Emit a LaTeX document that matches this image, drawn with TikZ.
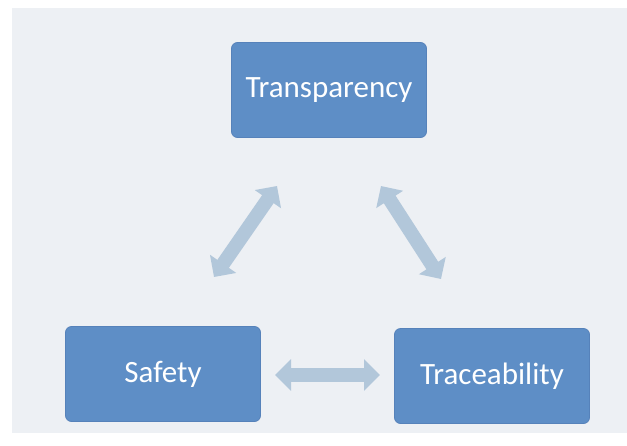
\documentclass[tikz,border=0pt]{standalone}
\usepackage{fontspec}
\setmainfont{Carlito}
\usetikzlibrary{arrows.meta}
\definecolor{bgpanel}{HTML}{EDF0F4}
\definecolor{boxfill}{HTML}{5E8EC6}
\definecolor{boxedge}{HTML}{5682BA}
\definecolor{linkfill}{HTML}{B2C7DA}
\tikzset{
  pillar/.style={draw=boxedge, line width=0.8pt, fill=boxfill, rounded corners=6pt,
    minimum width=195pt, minimum height=95pt, text=white, font=\fontsize{31}{33}\selectfont},
  link/.style={draw=linkfill, line width=14pt,
    {Triangle[length=16pt,width=31pt]}-{Triangle[length=16pt,width=31pt]}}
}
\begin{document}
\begin{tikzpicture}[x=1pt,y=-1pt]
  \useasboundingbox (0,0) rectangle (627,445);
  \fill[white] (0,0) rectangle (627,445);
  \fill[bgpanel] (12,8) rectangle (627,433);
  % the three pillars
  \node[pillar] (transp) at (329,90) {Transparency};
  \node[pillar] (safety) at (163,374) {Safety};
  \node[pillar] (trace) at (492,376) {Traceability};
  % ends of the two-way links
  \coordinate (ls) at (214,277);
  \coordinate (lt) at (277,186);
  \coordinate (rt) at (381,186);
  \coordinate (rs) at (441,279);
  \coordinate (bs) at (275,375);
  \coordinate (bt) at (380,375);
  \draw[link] (ls) -- (lt);
  \draw[link] (rt) -- (rs);
  \draw[link] (bs) -- (bt);
\end{tikzpicture}
\end{document}
